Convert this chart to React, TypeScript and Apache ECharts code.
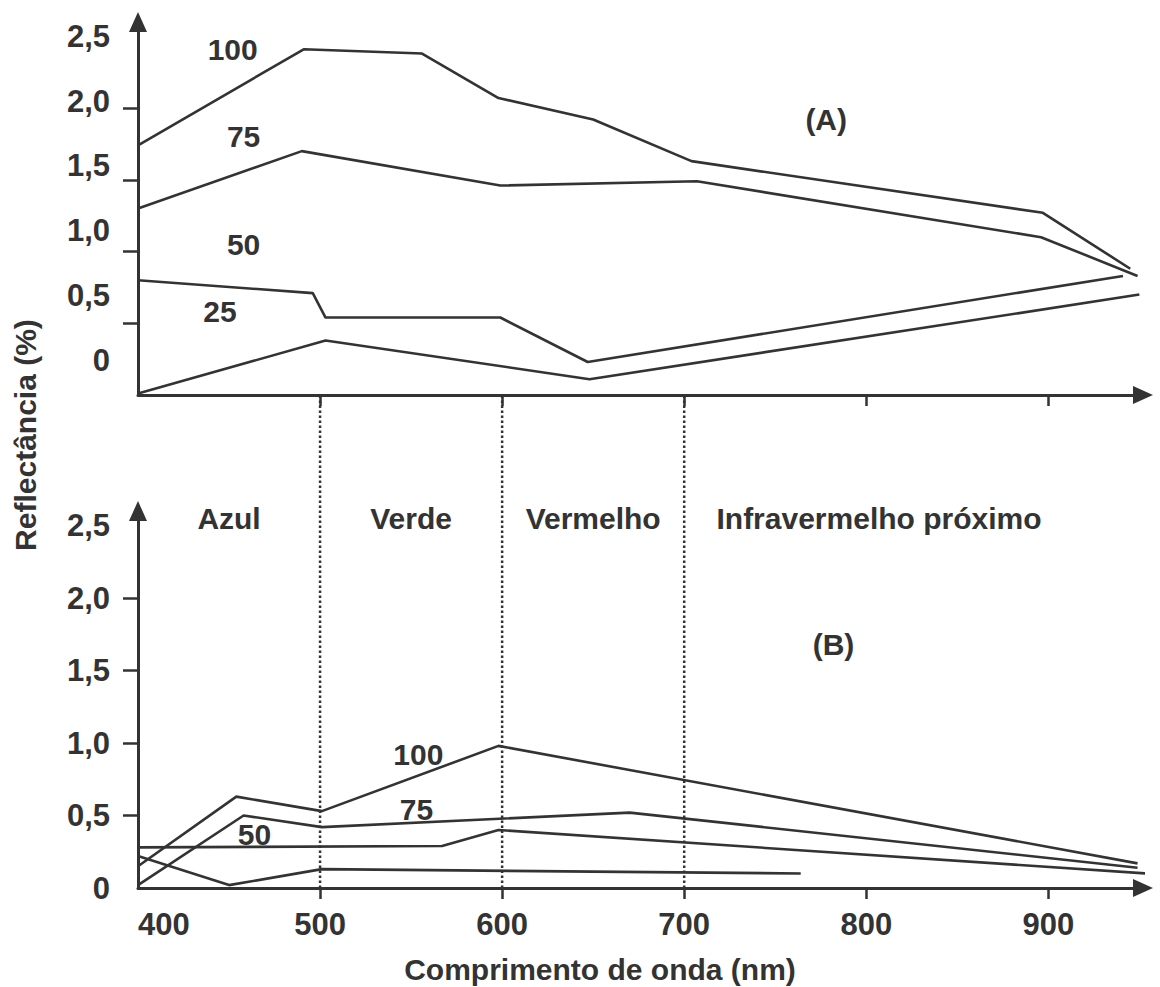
import React, { useEffect, useRef } from "react";
import * as echarts from "echarts";

// ---- data ----
const wavelengthTicks = [500, 600, 700, 800, 900];
const wavelengthLabels = [400, 500, 600, 700, 800, 900];
const reflectanceTicks = [0.5, 1, 1.5, 2];
const reflectanceLabels = [0, 0.5, 1, 1.5, 2, 2.5];
const bandEdges = [500, 600, 700];

// Panel (A)
const a100 = [[400, 1.74], [491, 2.41], [556, 2.38], [598, 2.07], [650, 1.92], [704, 1.63], [897, 1.27], [945, 0.88]];
const a75 = [[400, 1.3], [490, 1.7], [599, 1.46], [707, 1.49], [896, 1.1], [949, 0.83]];
const a50 = [[400, 0.8], [496, 0.71], [503, 0.54], [599, 0.54], [647, 0.23], [941, 0.83]];
const a25 = [[400, 0.01], [503, 0.38], [648, 0.11], [950, 0.7]];

// Panel (B)
const b100 = [[400, 0.15], [454, 0.63], [501, 0.53], [598, 0.98], [949, 0.17]];
const b75 = [[400, 0.02], [458, 0.5], [501, 0.42], [670, 0.52], [949, 0.14]];
const b50 = [[400, 0.28], [567, 0.29], [598, 0.4], [954, 0.1]];
const b25 = [[400, 0.22], [450, 0.02], [501, 0.13], [764, 0.1]];

// Annotations [text, wavelength, reflectance]
const labelsA: [string, number, number][] = [
  ["100", 452, 2.41],
  ["75", 458, 1.8],
  ["50", 458, 1.05],
  ["25", 445, 0.58],
  ["(A)", 778, 1.92],
];
const labelsB: [string, number, number][] = [
  ["100", 554, 0.92],
  ["75", 553, 0.54],
  ["50", 464, 0.37],
  ["(B)", 782, 1.68],
  ["Azul", 450, 2.55],
  ["Verde", 550, 2.55],
  ["Vermelho", 650, 2.55],
  ["Infravermelho próximo", 807, 2.55],
];

const INK = "#333333";
const FONT = "'Liberation Sans', Arial, Helvetica, sans-serif";

const fmt = (v: number) => (v === 0 ? "0" : v.toFixed(1).replace(".", ","));

function buildOption() {
  const X_MIN = 400;
  const X_MAX = 952;
  const Y_MAX = 2.6;

  const xAxisFor = (gridIndex: number, withLabels: boolean) => ({
    type: "value",
    gridIndex,
    min: X_MIN,
    max: X_MAX,
    axisLine: {
      show: true,
      onZero: false,
      lineStyle: { color: INK, width: 3 },
      symbol: ["none", "triangle"],
      symbolSize: [18, 20],
    },
    axisTick: {
      show: true,
      inside: false,
      length: 11,
      customValues: wavelengthTicks,
      lineStyle: { color: INK, width: 2.5 },
    },
    axisLabel: withLabels
      ? {
          show: true,
          margin: 21,
          customValues: wavelengthLabels,
          alignMinLabel: "left",
          color: INK,
          fontSize: 31,
          fontWeight: "bold",
          fontFamily: FONT,
          formatter: (v: number) => String(v),
        }
      : { show: false },
    splitLine: { show: false },
  });

  const yMainFor = (gridIndex: number, withLabels: boolean) => ({
    type: "value",
    gridIndex,
    min: 0,
    max: Y_MAX,
    position: "left",
    axisLine: {
      show: true,
      onZero: false,
      lineStyle: { color: INK, width: 3 },
      symbol: ["none", "triangle"],
      symbolSize: [18, 20],
    },
    axisTick: {
      show: true,
      inside: false,
      length: 15,
      customValues: reflectanceTicks,
      lineStyle: { color: INK, width: 2.5 },
    },
    axisLabel: withLabels
      ? {
          show: true,
          margin: 28,
          customValues: reflectanceLabels,
          color: INK,
          fontSize: 31,
          fontWeight: "bold",
          fontFamily: FONT,
          formatter: fmt,
        }
      : { show: false },
    splitLine: { show: false },
  });

  const line = (data: number[][], xi: number, yi: number) => ({
    type: "line",
    xAxisIndex: xi,
    yAxisIndex: yi,
    data,
    symbol: "none",
    clip: false,
    silent: true,
    z: 3,
    lineStyle: { color: INK, width: 2.6 },
  });

  const notes = (items: [string, number, number][], xi: number, yi: number) => ({
    type: "scatter",
    xAxisIndex: xi,
    yAxisIndex: yi,
    symbolSize: 1,
    silent: true,
    clip: false,
    z: 4,
    itemStyle: { color: "rgba(0,0,0,0)", opacity: 1 },
    data: items.map(([t, x, y]) => ({ name: t, value: [x, y] })),
    label: {
      show: true,
      position: "inside",
      formatter: "{b}",
      color: INK,
      opacity: 1,
      fontSize: 30,
      fontWeight: "bold",
      fontFamily: FONT,
    },
  });

  return {
    animation: false,
    backgroundColor: "#ffffff",
    textStyle: { fontFamily: FONT },
    grid: [
      { left: 138, top: 22, width: 1005, height: 373, containLabel: false },
      { left: 138, top: 511, width: 1005, height: 377, containLabel: false },
      { left: 138, top: 395, width: 1005, height: 493, containLabel: false },
    ],
    xAxis: [
      xAxisFor(0, false),
      xAxisFor(1, true),
      { type: "value", gridIndex: 2, min: X_MIN, max: X_MAX, show: false },
    ],
    yAxis: [
      yMainFor(0, false),
      {
        // label track of panel (A): the printed labels sit slightly above their ticks
        type: "value",
        gridIndex: 0,
        min: -0.265,
        max: 2.609,
        position: "left",
        axisLine: { show: false },
        axisTick: { show: false },
        splitLine: { show: false },
        axisLabel: {
          show: true,
          margin: 28,
          customValues: reflectanceLabels,
          color: INK,
          fontSize: 31,
          fontWeight: "bold",
          fontFamily: FONT,
          formatter: (v: number) =>
            reflectanceLabels.some((r) => Math.abs(r - v) < 1e-6) ? fmt(v) : "",
        },
      },
      yMainFor(1, true),
      { type: "value", gridIndex: 2, min: 0, max: 1, show: false },
    ],
    series: [
      line(a100, 0, 0),
      line(a75, 0, 0),
      line(a50, 0, 0),
      line(a25, 0, 0),
      line(b100, 1, 2),
      line(b75, 1, 2),
      line(b50, 1, 2),
      line(b25, 1, 2),
      ...bandEdges.map((b) => ({
        type: "line",
        xAxisIndex: 2,
        yAxisIndex: 3,
        data: [
          [b, 0],
          [b, 1],
        ],
        symbol: "none",
        silent: true,
        z: 2,
        lineStyle: { color: INK, width: 2.5, type: [2.5, 2.5] },
      })),
      notes(labelsA, 0, 0),
      notes(labelsB, 1, 2),
    ],
    graphic: [
      {
        type: "text",
        x: 25,
        y: 435,
        rotation: Math.PI / 2,
        style: {
          text: "Reflectância (%)",
          fill: INK,
          fontSize: 30,
          fontWeight: "bold",
          fontFamily: FONT,
          align: "center",
          verticalAlign: "middle",
        },
      },
      {
        type: "text",
        x: 600,
        y: 969,
        style: {
          text: "Comprimento de onda (nm)",
          fill: INK,
          fontSize: 30,
          fontWeight: "bold",
          fontFamily: FONT,
          align: "center",
          verticalAlign: "middle",
        },
      },
    ],
  };
}

export default function App() {
  const ref = useRef<HTMLDivElement>(null);
  useEffect(() => {
    document.body.style.margin = "0";
    if (!ref.current) return;
    const chart = echarts.init(ref.current, null, { renderer: "svg" });
    chart.setOption(buildOption() as any);
    return () => chart.dispose();
  }, []);
  return <div ref={ref} style={{ width: 1160, height: 987 }} />;
}
